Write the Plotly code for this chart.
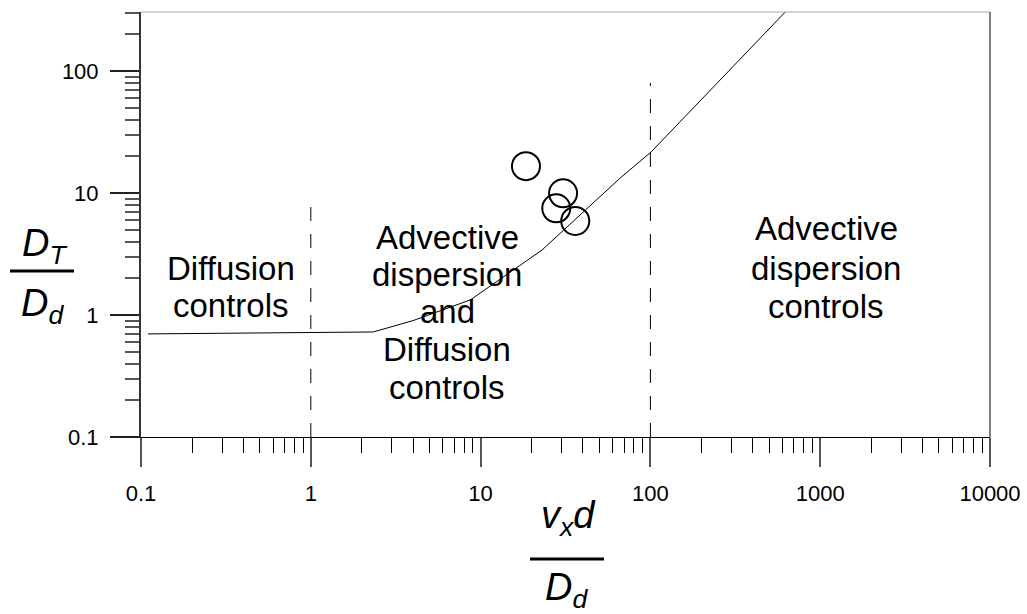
import plotly.graph_objects as go

# ---- data ----
curve_x = [0.11, 2.33, 4.0, 8.7, 23.0, 66.5, 101.0, 623.0]
curve_y = [0.70, 0.726, 0.90, 1.33, 3.41, 13.3, 21.7, 305.0]

circle_x = [18.5, 30.6, 27.9, 36.1]
circle_y = [16.6, 9.95, 7.5, 5.9]

divider1_x = [1, 1]
divider1_y = [0.1, 9.5]
divider2_x = [100, 100]
divider2_y = [0.1, 80]

x_tick_vals = [0.1, 1, 10, 100, 1000, 10000]
x_tick_text = ["0.1", "1", "10", "100", "1000", "10000"]
y_tick_vals = [0.1, 1, 10, 100]
y_tick_text = ["0.1", "1", "10", "100"]

region_labels = [
    ["Diffusion", "controls"],
    ["Advective", "dispersion", "and", "Diffusion", "controls"],
    ["Advective", "dispersion", "controls"],
]

FONT = "Liberation Sans, Arial, sans-serif"

# plot geometry (pixels)
W, H = 1027, 614
L, R, T, B = 141, 990, 12, 437
PW, PH = R - L, B - T


def px(xp):
    return (xp - L) / PW


def py(yp):
    return (B - yp) / PH


x_minor = [k * 10 ** e for e in range(-1, 4) for k in range(2, 10)]
y_minor = [v for v in (k * 10 ** e for e in range(-1, 3) for k in range(2, 10)) if v <= 305]

fig = go.Figure()

fig.add_trace(go.Scatter(x=divider1_x, y=divider1_y, mode="lines",
                         line=dict(color="black", width=1, dash="14px,13px"),
                         showlegend=False, hoverinfo="skip"))
fig.add_trace(go.Scatter(x=divider2_x, y=divider2_y, mode="lines",
                         line=dict(color="black", width=1, dash="14px,13px"),
                         showlegend=False, hoverinfo="skip"))
fig.add_trace(go.Scatter(x=curve_x, y=curve_y, mode="lines",
                         line=dict(color="black", width=1),
                         showlegend=False, hoverinfo="skip"))
fig.add_trace(go.Scatter(x=circle_x, y=circle_y, mode="markers",
                         marker=dict(symbol="circle-open", size=28, color="black",
                                     line=dict(width=2, color="black")),
                         showlegend=False, hoverinfo="skip"))

annotations = []
# region text: (center x pixel, center y pixel of each line)
region_pos = [
    (231, [268, 305]),
    (447, [237, 274, 311, 349, 387]),
    (826, [229, 268, 306]),
]
for lines, (cx, ys) in zip(region_labels, region_pos):
    for txt, yy in zip(lines, ys):
        annotations.append(dict(text=txt, x=px(cx), y=py(yy), xref="paper", yref="paper",
                                xanchor="center", yanchor="middle", showarrow=False,
                                font=dict(family=FONT, size=33, color="black")))

# axis titles as fractions
title_font = dict(family=FONT, size=38, color="black")
annotations += [
    dict(text="<i>D<sub>T</sub></i>", x=px(44), y=py(246), xref="paper", yref="paper",
         xanchor="center", yanchor="middle", showarrow=False, font=title_font),
    dict(text="<i>D<sub>d</sub></i>", x=px(42), y=py(306), xref="paper", yref="paper",
         xanchor="center", yanchor="middle", showarrow=False, font=title_font),
    dict(text="<i>v<sub>x</sub>d</i>", x=px(568), y=py(518), xref="paper", yref="paper",
         xanchor="center", yanchor="middle", showarrow=False, font=title_font),
    dict(text="<i>D<sub>d</sub></i>", x=px(566), y=py(590), xref="paper", yref="paper",
         xanchor="center", yanchor="middle", showarrow=False, font=title_font),
]

shapes = [
    dict(type="line", xref="paper", yref="paper", x0=px(10), x1=px(74), y0=py(271), y1=py(271),
         line=dict(color="black", width=3)),
    dict(type="line", xref="paper", yref="paper", x0=px(530), x1=px(604), y0=py(559), y1=py(559),
         line=dict(color="black", width=3)),
    dict(type="line", xref="paper", yref="paper", x0=0, x1=1, y0=1, y1=1,
         line=dict(color="#a8a8a8", width=1)),
    dict(type="line", xref="paper", yref="paper", x0=1, x1=1, y0=0, y1=1,
         line=dict(color="#808080", width=2)),
]

fig.update_layout(
    width=W, height=H,
    margin=dict(l=L, r=W - R, t=T, b=H - B, pad=0, autoexpand=False),
    paper_bgcolor="white", plot_bgcolor="white",
    showlegend=False,
    annotations=annotations,
    shapes=shapes,
    font=dict(family=FONT, size=22, color="black"),
)

fig.update_xaxes(
    type="log", range=[-1, 4], showgrid=False, zeroline=False, automargin=False,
    showline=True, linecolor="black", linewidth=1,
    tickmode="array", tickvals=x_tick_vals, ticktext=x_tick_text,
    ticks="outside", ticklen=29, tickwidth=2, tickcolor="#555555",
    ticklabelstandoff=8,
    tickfont=dict(family=FONT, size=22, color="black"),
    minor=dict(tickmode="array", tickvals=x_minor, ticks="outside", ticklen=15,
               tickwidth=1, tickcolor="black", showgrid=False),
)
fig.update_yaxes(
    type="log", range=[-1, 2.484], showgrid=False, zeroline=False, automargin=False,
    showline=True, linecolor="#333333", linewidth=2,
    tickmode="array", tickvals=y_tick_vals, ticktext=y_tick_text,
    ticks="outside", ticklen=29, tickwidth=2, tickcolor="#222222",
    ticklabelstandoff=7,
    tickfont=dict(family=FONT, size=22, color="black"),
    minor=dict(tickmode="array", tickvals=y_minor, ticks="outside", ticklen=14,
               tickwidth=2, tickcolor="#555555", showgrid=False),
)

fig.write_html("out.html")
